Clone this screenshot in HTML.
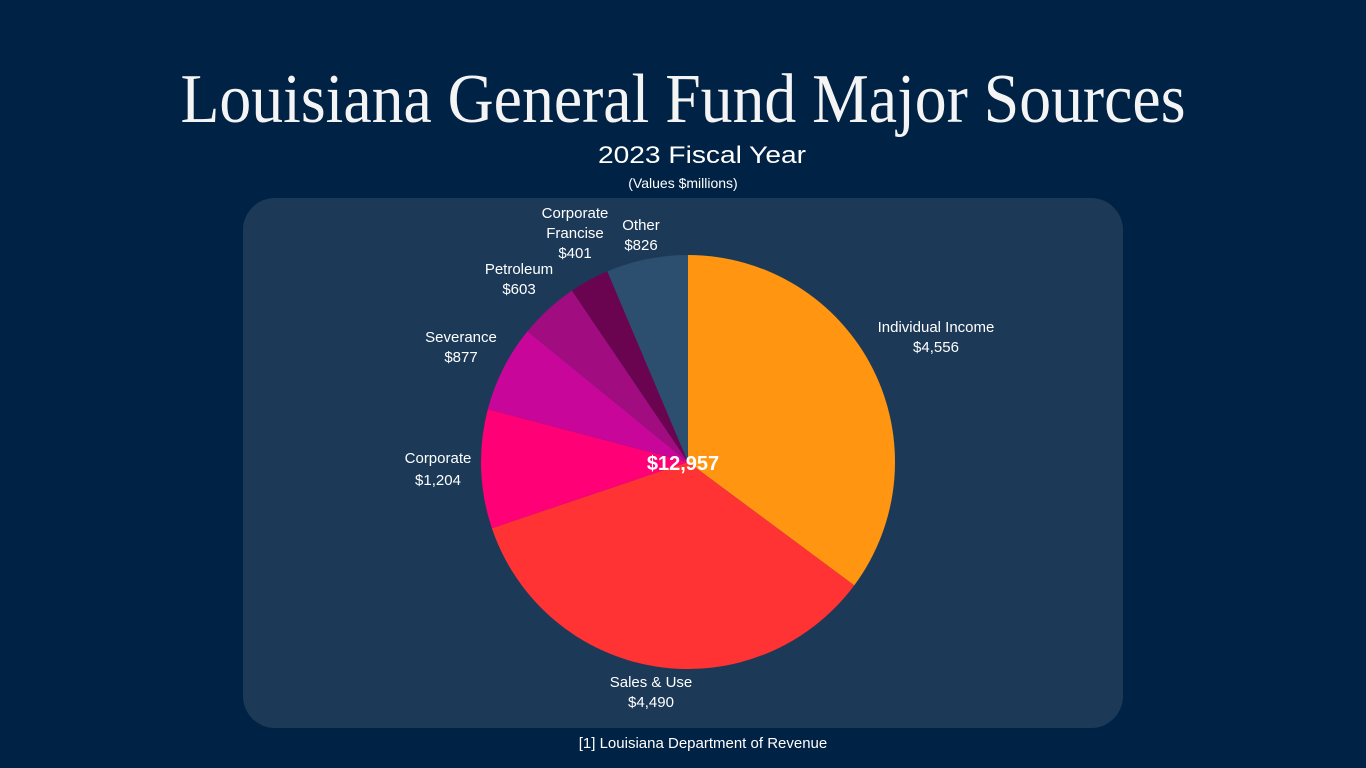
<!DOCTYPE html>
<html><head><meta charset="utf-8"><style>
html,body{margin:0;padding:0;background:#002244;}
svg{display:block;font-family:"Liberation Sans",sans-serif;}
</style></head><body>
<svg width="1366" height="768" viewBox="0 0 1366 768">
<rect x="0" y="0" width="1366" height="768" fill="#002244"/>
<text x="683" y="122" text-anchor="middle" font-family="Liberation Serif, serif" font-size="70" fill="#f4f4f4" textLength="1005" lengthAdjust="spacingAndGlyphs">Louisiana General Fund Major Sources</text>
<text x="702" y="163" text-anchor="middle" font-size="24" fill="#ffffff" textLength="208" lengthAdjust="spacingAndGlyphs">2023 Fiscal Year</text>
<text x="683" y="188" text-anchor="middle" font-size="14" fill="#ffffff">(Values $millions)</text>
<rect x="243" y="198" width="880" height="530" rx="32" fill="#1c3a58"/>
<g id="slices"></g>
<g id="labels"></g>
<text x="683" y="470" text-anchor="middle" font-size="20" font-weight="bold" fill="#ffffff" id="total"></text>
<text x="703" y="748" text-anchor="middle" font-size="15" fill="#ffffff">[1] Louisiana Department of Revenue</text>
</svg>
<script>
const categories = ["Individual Income","Sales & Use","Corporate","Severance","Petroleum","Corporate Francise","Other"];
const values = [4556,4490,1204,877,603,401,826];
const valueLabels = ["$4,556","$4,490","$1,204","$877","$603","$401","$826"];
const colors = ["#ff9510","#ff3333","#ff0077","#c8069a","#a10c80","#6a0350","#2d4f6f"];
const labelPos = [[936,332],[651,687],[438,463],[461,342],[519,274],[575,218],[641,230]];
const cx=688, cy=462, r=207;
const NS="http://www.w3.org/2000/svg";
const total = values.reduce((a,b)=>a+b,0);
const sg=document.getElementById('slices'), lg=document.getElementById('labels');
let a0=0;
values.forEach((v,i)=>{
  const a1=a0+v/total*2*Math.PI;
  const p=(a)=>[cx+r*Math.sin(a), cy-r*Math.cos(a)];
  const [x0,y0]=p(a0),[x1,y1]=p(a1);
  const large=(a1-a0)>Math.PI?1:0;
  const path=document.createElementNS(NS,'path');
  path.setAttribute('d',`M${cx},${cy} L${x0},${y0} A${r},${r} 0 ${large} 1 ${x1},${y1} Z`);
  path.setAttribute('fill',colors[i]);
  
  
  sg.appendChild(path);
  const [lx,ly]=labelPos[i];
  const lines = categories[i]==="Corporate Francise" ? ["Corporate","Francise",valueLabels[i]] : [categories[i],valueLabels[i]];
  const t=document.createElementNS(NS,'text');
  t.setAttribute('text-anchor','middle');
  t.setAttribute('font-size','15');
  t.setAttribute('fill','#ffffff');
  
  
  lines.forEach((s,j)=>{
    const ts=document.createElementNS(NS,'tspan');
    ts.setAttribute('x',lx); ts.setAttribute('y',ly+j*(i===2?22:20));
    ts.textContent=s; t.appendChild(ts);
  });
  lg.appendChild(t);
  a0=a1;
});
document.getElementById('total').textContent='$'+total.toLocaleString('en-US');
</script>
</body></html>
